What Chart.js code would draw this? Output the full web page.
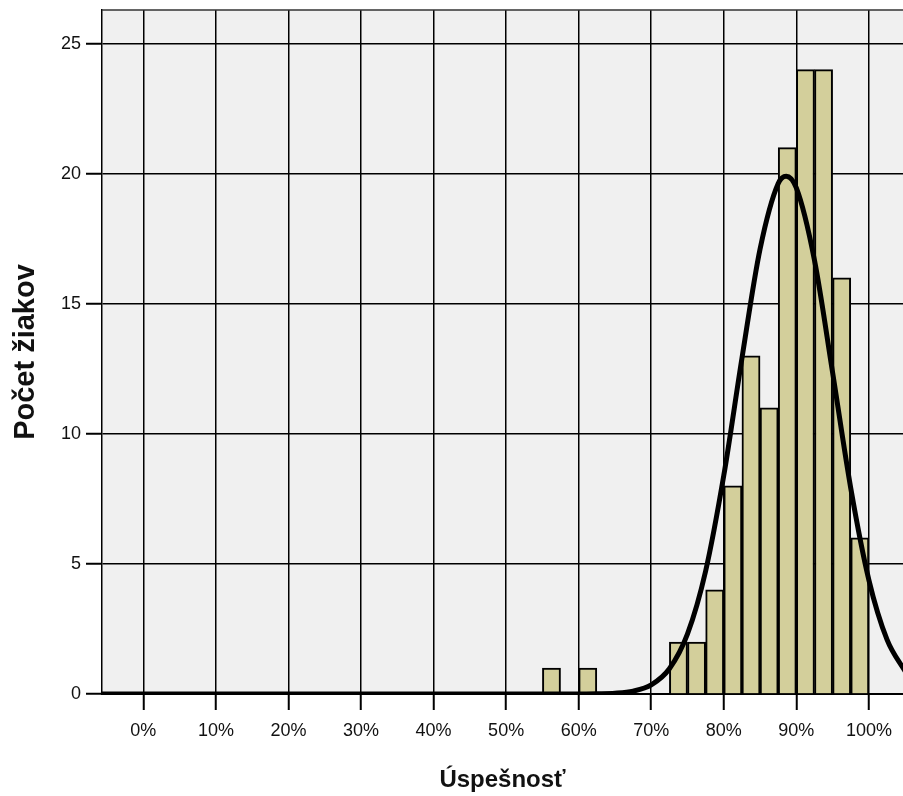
<!DOCTYPE html>
<html>
<head>
<meta charset="utf-8">
<script src="https://cdn.jsdelivr.net/npm/chart.js@4/dist/chart.umd.min.js"></script>
<style>
  html, body { margin: 0; padding: 0; background: #fff; overflow: hidden; }
  canvas { display: block; }
</style>
</head>
<body>
<canvas id="histChart" width="903" height="796"></canvas>
<script>
// histogram bins (2.5 % wide), given by their centres
const binCenters = [56.25, 61.25, 73.75, 76.25, 78.75, 81.25, 83.75, 86.25, 88.75, 91.25, 93.75, 96.25, 98.75];
const binCounts = [1, 1, 2, 2, 4, 8, 13, 11, 21, 24, 24, 16, 6];

// normal curve
const curveX = [-6, 60, 62.5, 65, 67.5, 70, 72.5, 75, 77.5, 80, 82.5, 85, 87.5, 88.6, 90, 92.5, 95, 97.5, 100, 102.5, 105];
const curveY = [0, 0, 0.01, 0.03, 0.11, 0.35, 0.97, 2.31, 4.73, 8.4, 12.9, 17.1, 19.62, 19.9, 19.45, 16.67, 12.35, 7.91, 4.38, 2.09, 0.87];

const xTicks = [0, 10, 20, 30, 40, 50, 60, 70, 80, 90, 100];
const yTicks = [0, 5, 10, 15, 20, 25];

const FONT = "'Liberation Sans', Arial, sans-serif";

const plotBackground = {
    id: 'plotBackground',
    beforeDraw(chart) {
        const { ctx, chartArea: a } = chart;
        ctx.save();
        ctx.fillStyle = '#f0f0f0';
        ctx.fillRect(a.left, a.top, a.right - a.left, a.bottom - a.top);
        ctx.restore();
    },
    afterDraw(chart) {
        // top frame line
        const { ctx, chartArea: a } = chart;
        ctx.save();
        ctx.strokeStyle = '#333';
        ctx.lineWidth = 1.3;
        ctx.beginPath();
        ctx.moveTo(a.left, a.top);
        ctx.lineTo(a.right, a.top);
        ctx.stroke();
        ctx.restore();
    }
};

const ctx = document.getElementById('histChart').getContext('2d');
new Chart(ctx, {
    type: 'bar',
    data: {
        datasets: [{
            type: 'line',
            data: curveX.map((x, i) => ({ x: x, y: curveY[i] })),
            borderColor: '#000',
            borderWidth: 5,
            pointRadius: 0,
            cubicInterpolationMode: 'monotone',
            fill: false,
            order: 0
        }, {
            type: 'bar',
            data: binCenters.map((x, i) => ({ x: x, y: binCounts[i] })),
            backgroundColor: '#d3cf9b',
            borderColor: '#000',
            borderWidth: 2,
            barPercentage: 1,
            categoryPercentage: 1,
            order: 1
        }]
    },
    options: {
        responsive: false,
        animation: false,
        layout: { padding: { top: 10, left: 0, right: 0, bottom: 0 } },
        plugins: {
            legend: { display: false },
            tooltip: { enabled: false }
        },
        scales: {
            x: {
                type: 'linear',
                offset: false,
                min: -5.7,
                max: 104.7,
                afterBuildTicks: scale => { scale.ticks = xTicks.map(v => ({ value: v })); },
                afterFit: scale => { scale.height = 102; },
                grid: {
                    offset: false,
                    color: '#000',
                    lineWidth: 1.5,
                    tickLength: 16,
                    tickWidth: 2,
                    tickColor: '#000'
                },
                border: { color: '#000', width: 2 },
                ticks: {
                    padding: 10,
                    color: '#111',
                    font: { family: FONT, size: 18 },
                    callback: v => v + '%'
                },
                title: {
                    display: true,
                    text: 'Úspešnosť',
                    color: '#111',
                    font: { family: FONT, size: 24, weight: 'bold' },
                    padding: { top: 0, bottom: 1 }
                }
            },
            y: {
                min: 0,
                max: 26.29,
                afterBuildTicks: scale => { scale.ticks = yTicks.map(v => ({ value: v })); },
                afterFit: scale => {
                    scale.width = 102;
                    scale.paddingTop = 0;
                    scale.paddingBottom = 0;
                },
                grid: {
                    color: '#000',
                    lineWidth: 1.5,
                    tickLength: 16,
                    tickWidth: 2,
                    tickColor: '#000'
                },
                border: { color: '#000', width: 1.5 },
                ticks: {
                    padding: 5,
                    color: '#111',
                    font: { family: FONT, size: 18 }
                },
                title: {
                    display: true,
                    text: 'Počet žiakov',
                    color: '#111',
                    font: { family: FONT, size: 29, weight: 'bold' },
                    padding: { top: 9, bottom: 0 }
                }
            }
        }
    },
    plugins: [plotBackground]
});
</script>
</body>
</html>
